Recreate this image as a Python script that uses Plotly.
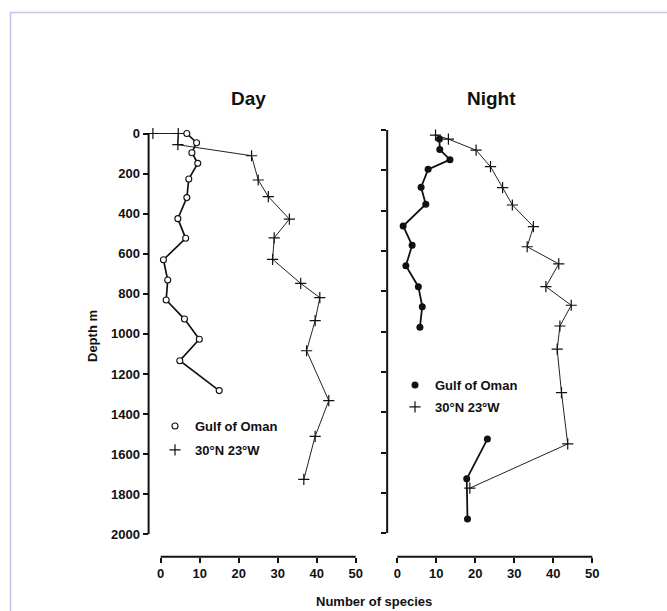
import plotly.graph_objects as go

# ---- data ----
day_oman_species = [6.7, 9.2, 8.0, 9.5, 7.2, 6.7, 4.4, 6.4, 0.7, 1.8, 1.4, 6.1, 9.9, 4.9, 15.0]
day_oman_depth = [0, 46, 96, 149, 227, 320, 425, 523, 630, 731, 831, 926, 1027, 1134, 1283]

day_atl_species = [-2.0, 4.5, 4.4, 23.3, 25.0, 27.6, 33.0, 29.1, 28.7, 35.9, 40.8, 39.6, 37.4, 43.1, 39.6, 36.7]
day_atl_depth = [0, 0, 56, 111, 232, 315, 427, 521, 628, 748, 819, 934, 1084, 1333, 1511, 1726]

night_oman_species = [10.8, 10.9, 13.5, 7.9, 6.1, 7.3, 1.5, 3.8, 2.2, 5.4, 6.4, 5.8, None, 23.1, 17.8, 18.0]
night_oman_depth = [45, 97, 147, 195, 284, 368, 476, 572, 673, 777, 876, 978, None, 1533, 1730, 1929]

night_atl_species = [9.8, 13.1, 20.2, 23.9, 27.0, 29.5, 34.9, 33.3, 41.4, 38.1, 44.6, 41.7, 41.0, 42.1, 43.7, 18.6]
night_atl_depth = [25, 45, 100, 182, 286, 372, 479, 579, 664, 777, 869, 972, 1087, 1302, 1557, 1776]

x_ticks = [0, 10, 20, 30, 40, 50]
y_ticks = [0, 200, 400, 600, 800, 1000, 1200, 1400, 1600, 1800, 2000]

panel_titles = ["Day", "Night"]
series_names = ["Gulf of Oman", "30°N 23°W"]

W, H = 667, 611
FONT = "Liberation Sans, Arial, sans-serif"
FS = 13

def px_x(v):
    return v / W

def px_y(v):
    return 1 - v / H

fig = go.Figure()

# ---- Day panel ----
fig.add_trace(go.Scatter(x=day_atl_species, y=day_atl_depth, mode="lines",
                         line=dict(color="#222", width=1), xaxis="x", yaxis="y",
                         showlegend=False, hoverinfo="skip"))
fig.add_trace(go.Scatter(x=day_oman_species, y=day_oman_depth, mode="lines",
                         line=dict(color="#111", width=1.7), xaxis="x", yaxis="y",
                         showlegend=False, hoverinfo="skip"))
fig.add_trace(go.Scatter(x=day_oman_species, y=day_oman_depth, mode="markers",
                         name=series_names[0], legend="legend", legendgroup="d1",
                         marker=dict(symbol="circle", size=6, color="white",
                                     line=dict(color="#111", width=1.1)),
                         cliponaxis=False, xaxis="x", yaxis="y"))
fig.add_trace(go.Scatter(x=day_atl_species, y=day_atl_depth, mode="markers",
                         name=series_names[1], legend="legend", legendgroup="d2",
                         marker=dict(symbol="cross-thin", size=8, color="#111",
                                     line=dict(color="#111", width=1.2)),
                         cliponaxis=False, xaxis="x", yaxis="y"))

# ---- Night panel ----
fig.add_trace(go.Scatter(x=night_atl_species, y=night_atl_depth, mode="lines",
                         line=dict(color="#222", width=1), xaxis="x2", yaxis="y2",
                         showlegend=False, hoverinfo="skip"))
fig.add_trace(go.Scatter(x=night_oman_species, y=night_oman_depth, mode="lines",
                         line=dict(color="#111", width=1.8), connectgaps=False,
                         xaxis="x2", yaxis="y2", showlegend=False, hoverinfo="skip"))
fig.add_trace(go.Scatter(x=night_oman_species, y=night_oman_depth, mode="markers",
                         name=series_names[0], legend="legend2", legendgroup="n1",
                         marker=dict(symbol="circle", size=7, color="#111"),
                         cliponaxis=False, xaxis="x2", yaxis="y2"))
fig.add_trace(go.Scatter(x=night_atl_species, y=night_atl_depth, mode="markers",
                         name=series_names[1], legend="legend2", legendgroup="n2",
                         marker=dict(symbol="cross-thin", size=8, color="#111",
                                     line=dict(color="#111", width=1.2)),
                         cliponaxis=False, xaxis="x2", yaxis="y2"))

tickfont = dict(family=FONT, size=FS, color="#111", weight="bold")

# left panel geometry (pixels): x=0 at 160.7, 3.9 px/unit
x1_range = [-3.1, 51]
x1_dom = [px_x(160.7 + x1_range[0] * 3.9), px_x(160.7 + x1_range[1] * 3.9)]
y1_range = [2000, -15]
y1_dom = [px_y(534.3), px_y(133.5 - 15 * 0.2004)]

x2_range = [-2.6, 51]
x2_dom = [px_x(397.3 + x2_range[0] * 3.9), px_x(397.3 + x2_range[1] * 3.9)]
y2_range = [2000, -15]
y2_dom = [px_y(533.3), px_y(130.0 - 15 * 0.2017)]

xpos = px_y(556.7)

common_x = dict(tickvals=x_ticks, ticks="outside", ticklen=5, tickwidth=2,
                tickcolor="#111", showline=False, showgrid=False, zeroline=False,
                tickfont=tickfont, anchor="free", position=xpos, fixedrange=True)
common_y = dict(tickvals=y_ticks, ticks="outside", ticklen=5, tickwidth=2,
                tickcolor="#111", showline=False, showgrid=False, zeroline=False,
                tickfont=tickfont, fixedrange=True)

legend_font = dict(family=FONT, size=FS, color="#111", weight="bold")

fig.update_layout(
    width=W, height=H,
    margin=dict(l=0, r=0, t=0, b=0, autoexpand=False),
    paper_bgcolor="white", plot_bgcolor="white",
    xaxis=dict(common_x, domain=x1_dom, range=x1_range),
    yaxis=dict(common_y, domain=y1_dom, range=y1_range, anchor="x", showticklabels=True),
    xaxis2=dict(common_x, domain=x2_dom, range=x2_range),
    yaxis2=dict(common_y, domain=y2_dom, range=y2_range, anchor="x2", showticklabels=False),
    legend=dict(x=px_x(155), y=px_y(411), xanchor="left", yanchor="top",
                font=legend_font, bgcolor="rgba(0,0,0,0)", itemwidth=30,
                tracegroupgap=4, traceorder="grouped"),
    legend2=dict(x=px_x(395), y=px_y(370), xanchor="left", yanchor="top",
                 font=legend_font, bgcolor="rgba(0,0,0,0)", itemwidth=30,
                 tracegroupgap=2, traceorder="grouped"),
    showlegend=True,
)

# axis lines (offset, Prism-style)
for xa, ya in (("x", "y"), ("x2", "y2")):
    fig.add_shape(type="line", xref=xa, yref="paper", x0=x_ticks[0], x1=x_ticks[-1],
                  y0=xpos, y1=xpos, line=dict(color="#111", width=2))
    fig.add_shape(type="line", xref=f"{xa} domain", yref=ya, x0=0, x1=0,
                  y0=y_ticks[0], y1=y_ticks[-1], line=dict(color="#111", width=2))

# frame
fig.add_shape(type="rect", xref="paper", yref="paper", x0=px_x(10.5), x1=1.2,
              y0=-0.2, y1=px_y(12.5), line=dict(color="#c6c3e6", width=1.5))

# titles and axis labels
title_font = dict(family=FONT, size=19, color="#111", weight="bold")
ann = dict(xref="paper", yref="paper", showarrow=False, xanchor="center", yanchor="middle")
fig.add_annotation(text=panel_titles[0], x=px_x(248), y=px_y(99), font=title_font, **ann)
fig.add_annotation(text=panel_titles[1], x=px_x(491), y=px_y(99), font=title_font, **ann)
fig.add_annotation(text="Depth m", x=px_x(92), y=px_y(336), textangle=-90,
                   font=legend_font, **ann)
fig.add_annotation(text="Number of species", x=px_x(374), y=px_y(601),
                   font=legend_font, **ann)

fig.write_html("out.html",
               config={"displayModeBar": False},
               post_script="document.body.style.margin='0';document.body.style.overflow='hidden';")
